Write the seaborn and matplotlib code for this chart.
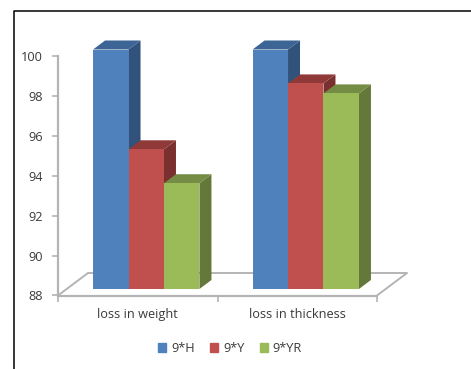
import matplotlib
matplotlib.use("Agg")
import matplotlib.pyplot as plt
import pandas as pd
import seaborn as sns
from matplotlib.lines import Line2D
from matplotlib.patches import Patch, Polygon

# values
categories = ["loss in weight", "loss in thickness"]
series = ["9*H", "9*Y", "9*YR"]
h_values = [100, 100]
y_values = [95.0, 98.3]
yr_values = [93.3, 97.8]
y_ticks = [88, 90, 92, 94, 96, 98, 100]

front_colors = ["#4F81BD", "#C0504D", "#9BBB59"]
top_colors = ["#3C6494", "#8F3A38", "#748C43"]
side_colors = ["#31527A", "#7A302E", "#64783A"]
axis_grey = "#B4B4B4"
text_color = "#3A3A3A"

W, H = 471, 369
plt.rcParams["font.family"] = ["Open Sans", "DejaVu Sans"]

df = pd.DataFrame({
    "category": categories * 3,
    "series": [s for s in series for _ in categories],
    "value": h_values + y_values + yr_values,
})

fig = plt.figure(figsize=(W / 100, H / 100), dpi=100)

# axis box: pixel rectangle of the front floor edge and the y axis
left, right, base, top = 58, 377, 295.5, 56
ax = fig.add_axes([left / W, 1 - base / H, (right - left) / W, (base - top) / H])
ax.set_xlim(-0.5, 1.5)
ax.set_ylim(88, 100)
ax.set_xticks([-0.5, 0.5, 1.5])
ax.set_xticklabels([])
ax.set_yticks(y_ticks)
ax.tick_params(axis="both", color=axis_grey, width=1.2, length=4, labelcolor=text_color, labelsize=9.2, pad=7)
for name in ["top", "right"]:
    ax.spines[name].set_visible(False)
for name in ["left", "bottom"]:
    ax.spines[name].set_color(axis_grey)
    ax.spines[name].set_linewidth(1.6)

# floor of the 3d box, behind the bars
floor_dx = 30 / (right - left) * 2
floor_dy = 22.5 / ((base - top) / 12)
floor_x = [-0.5, -0.5 + floor_dx, 1.5 + floor_dx, 1.5]
floor_y = [88, 88 + floor_dy, 88 + floor_dy, 88]
ax.add_line(Line2D(floor_x, floor_y, color=axis_grey, lw=1.4, clip_on=False))

for cat_x, label in zip([0, 1], categories):
    ax.text(cat_x, -0.078, label, transform=ax.get_xaxis_transform(), ha="center", va="center",
            fontsize=9.2, color=text_color)

# bars sit a little inside the floor, so they get their own axes shifted up and right
bar_ax = fig.add_axes([(left + 8.5) / W, 1 - (base - 6.5) / H, (right - left) / W, (base - top) / H])
bar_ax.patch.set_alpha(0)
sns.barplot(data=df, x="category", y="value", hue="series", hue_order=series, order=categories,
            palette=front_colors, saturation=1, width=0.667, gap=0, legend=False, ax=bar_ax)
bar_ax.set_xlim(-0.5, 1.5)
bar_ax.set_ylim(88, 100)
bar_ax.axis("off")

# depth of the bars, in data units
depth_x = 12 / ((right - left) / 2)
depth_y = 9 / ((base - top) / 12)

z = 3
for i, container in enumerate(bar_ax.containers):
    for bar in container:
        x0 = bar.get_x()
        x1 = x0 + bar.get_width()
        h = bar.get_height()
        side = [(x1, 88), (x1 + depth_x, 88 + depth_y), (x1 + depth_x, h + depth_y), (x1, h)]
        lid = [(x0, h), (x1, h), (x1 + depth_x, h + depth_y), (x0 + depth_x, h + depth_y)]
        bar_ax.add_patch(Polygon(side, color=side_colors[i], lw=0, clip_on=False, zorder=z))
        bar_ax.add_patch(Polygon(lid, color=top_colors[i], lw=0, clip_on=False, zorder=z))
        bar.set_zorder(z + 1)
    z += 2

handles = [Patch(color=c, label=s) for c, s in zip(front_colors, series)]
fig.legend(handles=handles, loc="center", bbox_to_anchor=(230 / W, 1 - 348.5 / H), ncol=3, frameon=False,
           fontsize=9.2, labelcolor=text_color, handlelength=0.62, handleheight=0.62,
           handletextpad=0.4, columnspacing=1.2, borderpad=0)

# black frame pasted round the chart, open to the right and bottom
fig.add_artist(Line2D([14 / W, 14 / W, 1], [0, 1 - 10.5 / H, 1 - 10.5 / H], color="black", lw=1.1))

fig.savefig("out.png", dpi=100)
